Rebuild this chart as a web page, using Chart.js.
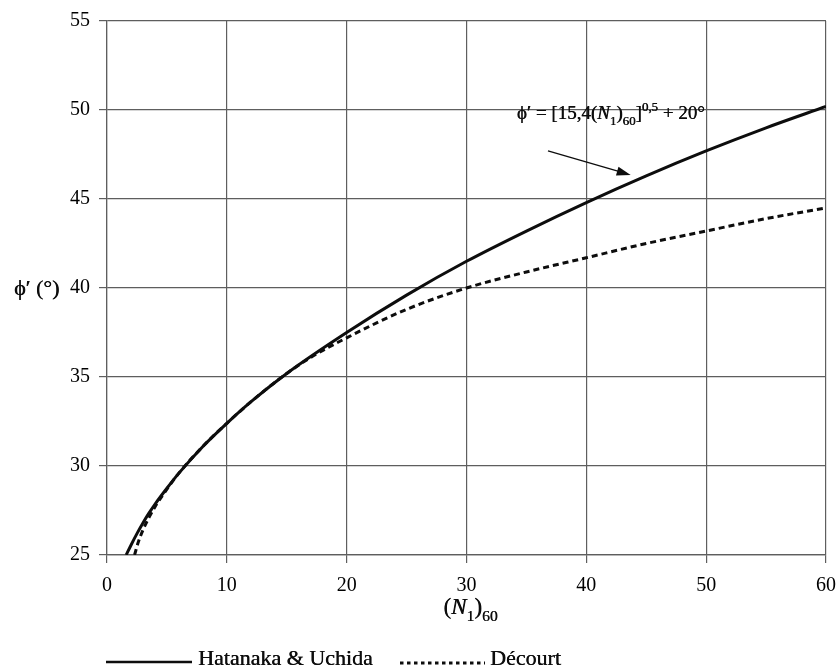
<!DOCTYPE html>
<html>
<head>
<meta charset="utf-8">
<title>Friction angle vs (N1)60</title>
<script src="https://cdn.jsdelivr.net/npm/chart.js@4.4.1/dist/chart.umd.min.js"></script>
<style>
  html, body { margin: 0; padding: 0; background: #ffffff; }
  #wrap { width: 840px; height: 668px; position: relative; }
</style>
</head>
<body>
<div id="wrap"><canvas id="chart" width="840" height="668"></canvas></div>
<script>
// Corrected SPT blow count (N1)60 and friction angle phi' (degrees)
const nHatanaka   = [1.6, 2, 2.5, 3, 3.5, 4, 5, 6, 8, 10, 12, 15, 20, 25, 30, 35, 40, 45, 50, 55, 60];
const phiHatanaka = [25.0, 25.55, 26.2, 26.8, 27.35, 27.85, 28.75, 29.6, 31.1, 32.4, 33.6, 35.2, 37.5, 39.6, 41.5, 43.2, 44.8, 46.3, 47.7, 49.0, 50.2];

const nDecourt    = [2.3, 2.6, 3, 3.5, 4, 5, 6, 8, 10, 12, 15, 17, 20, 25, 30, 35, 40, 45, 50, 55, 60];
const phiDecourt  = [25.0, 25.7, 26.4, 27.1, 27.7, 28.7, 29.6, 31.1, 32.4, 33.6, 35.2, 36.1, 37.2, 38.8, 40.0, 40.9, 41.7, 42.5, 43.2, 43.9, 44.5];

const xTicks = [0, 10, 20, 30, 40, 50, 60];
const yTicks = [25, 30, 35, 40, 45, 50, 55];

const seriesNames = ['Hatanaka & Uchida', 'Décourt'];

const SERIF = '"Liberation Serif", "Times New Roman", serif';
const INK = '#0d0d0d';
const GRID = '#5e5e5e';

function pts(xs, ys) { return xs.map((x, i) => ({ x: x, y: ys[i] })); }

// Draw a sequence of text runs (normal / italic / subscript / superscript)
function runWidth(ctx, runs, size) {
  let w = 0;
  runs.forEach(r => {
    const s = r.mode ? size * 0.68 : size;
    ctx.font = (r.italic ? 'italic ' : '') + s + 'px ' + SERIF;
    w += ctx.measureText(r.t).width;
  });
  return w;
}
function drawRuns(ctx, runs, x, y, size, align) {
  let cx = x;
  if (align === 'center') cx = x - runWidth(ctx, runs, size) / 2;
  ctx.textBaseline = 'alphabetic';
  ctx.textAlign = 'left';
  runs.forEach(r => {
    const s = r.mode ? size * 0.68 : size;
    ctx.font = (r.italic ? 'italic ' : '') + s + 'px ' + SERIF;
    let dy = 0;
    if (r.mode === 'sub') dy = size * 0.3;
    if (r.mode === 'sup') dy = -size * 0.42;
    // printed look: a second pass a fraction of a pixel over thickens the strokes
    ctx.fillText(r.t, cx, y + dy);
    ctx.fillText(r.t, cx + 0.4, y + dy);
    cx += ctx.measureText(r.t).width;
  });
}

const decorations = {
  id: 'decorations',
  afterDraw(chart) {
    const ctx = chart.ctx;
    const xs = chart.scales.x, ys = chart.scales.y;
    ctx.save();
    ctx.fillStyle = INK;
    ctx.strokeStyle = INK;

    // y axis title, level with the 40 tick label
    drawRuns(ctx, [{ t: 'ϕ′ (°)' }], 14, ys.getPixelForValue(40) + 7, 22, 'left');

    // x axis title
    const xc = (chart.chartArea.left + chart.chartArea.right) / 2;
    drawRuns(ctx, [
      { t: '(' }, { t: 'N', italic: true }, { t: '1', mode: 'sub' }, { t: ')' }, { t: '60', mode: 'sub' }
    ], xc + 4, 614, 23, 'center');

    // equation label with arrow
    const tx = xs.getPixelForValue(34.2), ty = ys.getPixelForValue(49.5);
    drawRuns(ctx, [
      { t: 'ϕ′ = [15,4(' }, { t: 'N', italic: true }, { t: '1', mode: 'sub' }, { t: ')' },
      { t: '60', mode: 'sub' }, { t: ']' }, { t: '0,5', mode: 'sup' }, { t: ' + 20°' }
    ], tx, ty, 19, 'left');

    const ax0 = xs.getPixelForValue(36.8), ay0 = ys.getPixelForValue(47.7);
    const ax1 = xs.getPixelForValue(43.7), ay1 = ys.getPixelForValue(46.35);
    const ang = Math.atan2(ay1 - ay0, ax1 - ax0);
    ctx.lineWidth = 1.3;
    ctx.beginPath();
    ctx.moveTo(ax0, ay0);
    ctx.lineTo(ax1 - 8 * Math.cos(ang), ay1 - 8 * Math.sin(ang));
    ctx.stroke();
    ctx.beginPath();
    ctx.moveTo(ax1, ay1);
    ctx.lineTo(ax1 - 14 * Math.cos(ang) + 4.5 * Math.sin(ang), ay1 - 14 * Math.sin(ang) - 4.5 * Math.cos(ang));
    ctx.lineTo(ax1 - 14 * Math.cos(ang) - 4.5 * Math.sin(ang), ay1 - 14 * Math.sin(ang) + 4.5 * Math.cos(ang));
    ctx.closePath();
    ctx.fill();

    // legend below the axis
    const ly = 662;
    ctx.lineWidth = 2.6;
    ctx.setLineDash([]);
    ctx.beginPath(); ctx.moveTo(106, ly); ctx.lineTo(192, ly); ctx.stroke();
    drawRuns(ctx, [{ t: seriesNames[0] }], 198, ly + 3, 22, 'left');
    ctx.lineWidth = 3;
    ctx.setLineDash([3.5, 3.5]);
    ctx.beginPath(); ctx.moveTo(400, ly + 1); ctx.lineTo(485, ly + 1); ctx.stroke();
    ctx.setLineDash([]);
    drawRuns(ctx, [{ t: seriesNames[1] }], 490, ly + 3, 22, 'left');
    ctx.restore();
  }
};

new Chart(document.getElementById('chart'), {
  type: 'scatter',
  data: {
    datasets: [
      {
        label: seriesNames[0],
        data: pts(nHatanaka, phiHatanaka),
        showLine: true,
        borderColor: INK,
        borderWidth: 3,
        pointRadius: 0,
        cubicInterpolationMode: 'monotone'
      },
      {
        label: seriesNames[1],
        data: pts(nDecourt, phiDecourt),
        showLine: true,
        borderColor: INK,
        borderWidth: 3,
        borderDash: [6, 4],
        pointRadius: 0,
        cubicInterpolationMode: 'monotone'
      }
    ]
  },
  options: {
    responsive: false,
    animation: false,
    layout: { padding: { left: 0, right: 14, top: 20, bottom: 0 } },
    plugins: {
      legend: { display: false },
      tooltip: { enabled: false }
    },
    scales: {
      x: {
        type: 'linear',
        min: xTicks[0],
        max: xTicks[xTicks.length - 1],
        afterBuildTicks(scale) { scale.ticks = xTicks.map(v => ({ value: v })); },
        afterFit(scale) { scale.height = 113; scale.paddingRight = 2; scale.paddingLeft = 0; },
        grid: { color: GRID, lineWidth: 1.2, tickLength: 8, drawTicks: true },
        border: { color: GRID, width: 1.2 },
        ticks: { color: '#000000', padding: 11, font: { family: SERIF, size: 20 } }
      },
      y: {
        type: 'linear',
        min: yTicks[0],
        max: yTicks[yTicks.length - 1],
        afterBuildTicks(scale) { scale.ticks = yTicks.map(v => ({ value: v })); },
        afterFit(scale) { scale.width = 107; },
        grid: { color: GRID, lineWidth: 1.2, tickLength: 8, drawTicks: true },
        border: { color: GRID, width: 1.2 },
        ticks: { color: '#000000', padding: 9, font: { family: SERIF, size: 20 } }
      }
    }
  },
  plugins: [decorations]
});
</script>
</body>
</html>
